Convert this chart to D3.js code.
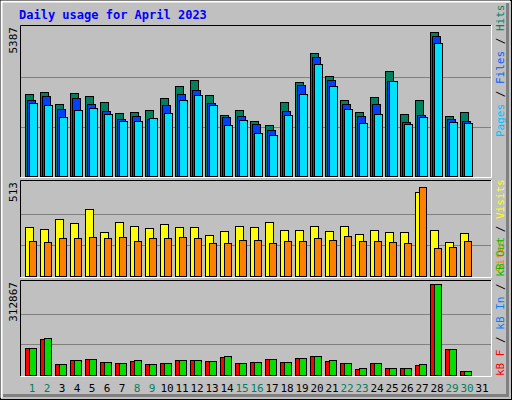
<!DOCTYPE html><html><head><meta charset="utf-8">
<script src="https://cdn.jsdelivr.net/npm/d3@7"></script>
<style>body{margin:0;background:#fff}text{font-family:"DejaVu Sans Mono",monospace}</style></head><body>
<svg id="c" width="512" height="400"></svg>
<script>
const days=d3.range(1,32);
const weekend=[1,2,8,9,15,16,22,23,29,30];
const hits=[2990,3070,2630,3020,2915,2700,2308,2344,2415,2844,3272,3486,2951,2237,2415,1987,1845,2700,3415,4485,3629,2772,2344,2879,3807,2273,2772,5234,2166,2344,0];
const files=[2770,2915,2450,2840,2630,2380,2059,2166,2059,2594,2986,3129,2665,2130,2201,1880,1666,2380,3308,4342,3486,2630,2201,2630,3450,1952,2237,5091,2059,1987,0];
const pages=[2675,2594,2130,2415,2487,2273,1987,1987,2094,2308,2772,2951,2594,1845,2023,1559,1488,2237,2986,4092,3272,2451,1916,2273,3450,1880,2130,4842,1952,1916,0];
const visits=[271,260,314,292,367,244,298,276,266,287,271,271,228,250,276,271,298,255,255,276,250,276,234,255,244,244,463,255,185,239,0];
const sites=[191,185,212,212,217,212,217,191,207,207,217,212,180,180,201,196,180,191,191,207,196,223,191,191,185,180,490,153,159,191,0];
const kbF=[90800,121000,36400,50000,53400,43000,39800,46600,36400,39800,50000,50000,46600,60000,39800,43000,53400,43000,56800,63600,46600,39800,19400,39800,22800,22800,33000,308000,87400,12600,0];
const kbOut=[90800,124800,36400,50000,53400,43000,39800,50000,36400,39800,50000,50000,46600,63600,39800,43000,53400,43000,56800,63600,50000,39800,22800,39800,22800,22800,36400,308000,87400,12600,0];
const maxTop=5387,maxMid=513,maxBot=312867;

const svg=d3.select("#c");
svg.append("rect").attr("x",0).attr("y",0).attr("width",512).attr("height",400).attr("fill","#c0c0c0");
// bevel
svg.append("rect").attr("x",0.5).attr("y",0.5).attr("width",511).attr("height",399).attr("fill","none").attr("stroke","#000");
svg.append("path").attr("d","M1.5,398V1.5H510").attr("stroke","#fff").attr("stroke-width",2).attr("fill","none");
svg.append("path").attr("d","M3,395.5H507.5V3").attr("stroke","#808080").attr("stroke-width",3).attr("fill","none");
svg.append("text").attr("x",19).attr("y",19).attr("fill","#0000ff").attr("font-weight","bold").attr("font-size",12).text("Daily usage for April 2023");

const x=d3.scaleBand().domain(days).range([20,491]).paddingInner(0).paddingOuter(0);
const off=d=>25+(d-1)*15;

function panel(y0,y1,max,label){
  svg.append("rect").attr("x",20).attr("y",y0).attr("width",471).attr("height",y1-y0).attr("fill","#c0c0c0");
  svg.append("path").attr("d",`M20.5,${y1}V${y0+0.5}H491`).attr("stroke","#000").attr("fill","none");
  svg.append("path").attr("d",`M20.5,${y1+0.5}H491.5V${y0}`).attr("stroke","#fff").attr("fill","none");
  const y=d3.scaleLinear().domain([0,max]).range([y1-1,y0+3]);
  [max/3,2*max/3].forEach(v=>svg.append("line").attr("x1",21).attr("x2",491).attr("y1",Math.round(y(v))+0.5).attr("y2",Math.round(y(v))+0.5).attr("stroke","#808080"));
  svg.append("text").attr("transform",`translate(17,${y0+2}) rotate(-90)`).attr("text-anchor","end").attr("font-size",11).attr("fill","#000").text(label);
  return y;
}
function bars(y,data,dx,w,color){
  svg.append("g").selectAll("rect").data(days.filter((d,i)=>data[i]>0)).join("rect")
    .attr("x",d=>off(d)+dx+0.5).attr("width",w).attr("y",d=>Math.round(y(data[d-1]))+0.5)
    .attr("height",d=>y(0)-Math.round(y(data[d-1]))).attr("fill",color).attr("stroke","#000");
}
const yT=panel(25,177,maxTop,"5387");
bars(yT,hits,0,8,"#00805c");bars(yT,files,2,8,"#0040ff");bars(yT,pages,4,8,"#00e0ff");
const yM=panel(180,277,maxMid,"513");
bars(yM,visits,0,8,"#ffff00");bars(yM,sites,4,7,"#ff8000");
const yB=panel(280,376,maxBot,"312867");
bars(yB,kbF,0,7,"#ff0000");bars(yB,kbOut,4,7,"#00e000");

svg.append("g").selectAll("text").data(days).join("text").attr("x",d=>off(d)+7).attr("y",392)
 .attr("text-anchor","middle").attr("font-size",11).attr("fill",d=>weekend.includes(d)?"#008060":"#000").text(d=>d);

function side(yb,parts){
  const t=svg.append("text").attr("transform",`translate(504,${yb}) rotate(-90)`).attr("font-size",11);
  parts.forEach(([s,c])=>t.append("tspan").attr("fill",c).text(s));
}
side(137,[["Pages","#00c0ff"],[" / ","#000"],["Files","#0060ff"],[" / ","#000"],["Hits","#008060"]]);
side(272,[["Sites","#ff8000"],[" / ","#000"],["Visits","#ffff00"]]);
side(376,[["kB F","#ff0000"],[" / ","#000"],["kB In","#0080ff"],[" / ","#000"],["kB Out","#00c000"]]);
</script></body></html>
